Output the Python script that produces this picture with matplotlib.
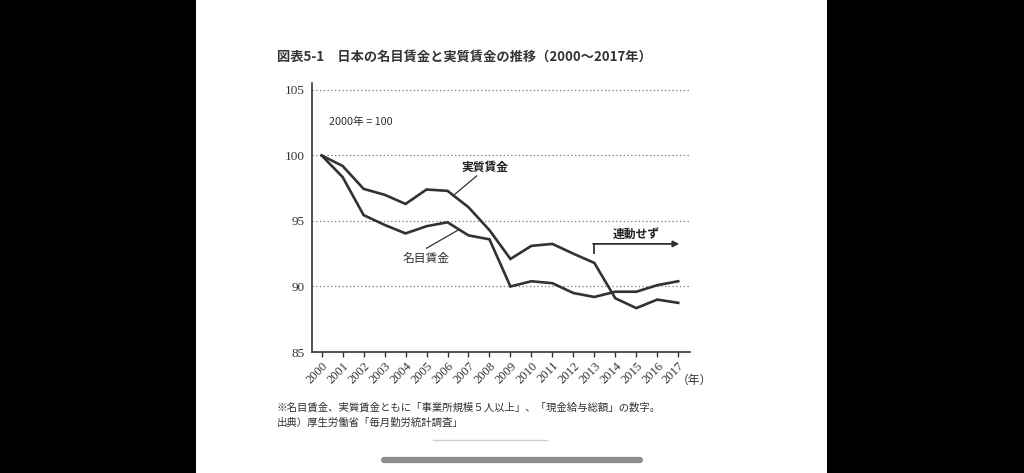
import matplotlib
matplotlib.use('Agg')
import matplotlib.pyplot as plt
from matplotlib.patches import Rectangle
from matplotlib.lines import Line2D

plt.rcParams['font.family'] = ['Noto Sans CJK JP', 'DejaVu Sans']

# data (2000 = 100)
years = list(range(2000, 2018))
real_wage = [100, 99.2, 97.45, 97.0, 96.3, 97.4, 97.3, 96.05, 94.3, 92.1,
             93.1, 93.25, 92.5, 91.8, 89.1, 88.35, 89.0, 88.75]
nominal_wage = [100, 98.35, 95.45, 94.7, 94.05, 94.6, 94.9, 93.9, 93.6, 90.0,
                90.4, 90.25, 89.5, 89.2, 89.6, 89.6, 90.1, 90.4]
y_ticks = [85, 90, 95, 100, 105]

title = '図表5-1　日本の名目賃金と実質賃金の推移（2000～2017年）'
note1 = '※名目賃金、実質賃金ともに「事業所規模５人以上」、「現金給与総額」の数字。'
note2 = '出典）厚生労働省「毎月勤労統計調査」'

line_c = '#353131'

fig = plt.figure(figsize=(10.24, 4.73), dpi=100)
fig.patch.set_facecolor('white')

# black side bars of the screenshot
fig.patches.append(Rectangle((0, 0), 196 / 1024, 1, transform=fig.transFigure,
                             facecolor='black', edgecolor='none', zorder=0))
fig.patches.append(Rectangle((827 / 1024, 0), 1 - 827 / 1024, 1, transform=fig.transFigure,
                             facecolor='black', edgecolor='none', zorder=0))

ax = fig.add_axes([312 / 1024, 1 - 352 / 473, 378 / 1024, (352 - 83) / 473])
ax.set_facecolor('white')

ax.plot(years, real_wage, color=line_c, lw=1.9, solid_joinstyle='miter', zorder=3)
ax.plot(years, nominal_wage, color=line_c, lw=1.9, solid_joinstyle='miter', zorder=3)

ax.set_xlim(1999.54, 2017.56)
ax.set_ylim(85, 105.53)

# dotted grid
for v in y_ticks[1:]:
    ax.axhline(v, color='#777777', lw=0.9, ls=(0, (1, 2)), zorder=1)

for s in ['top', 'right']:
    ax.spines[s].set_visible(False)
for s in ['left', 'bottom']:
    ax.spines[s].set_color('#333333')
    ax.spines[s].set_linewidth(1.2)

ax.set_yticks(y_ticks)
ax.set_yticklabels([str(v) for v in y_ticks], family='Liberation Serif', fontsize=9.5,
                   color='#333333')
ax.tick_params(axis='y', length=0, pad=5)
ax.set_xticks(years)
ax.set_xticklabels([str(y) for y in years], rotation=45, ha='right', va='top',
                   rotation_mode='anchor', family='Liberation Serif', fontsize=9,
                   color='#333333')
ax.tick_params(axis='x', length=3.5, width=1, color='#333333', pad=2)

# annotations
ax.text(2000.35, 102.56, '2000年 = 100', fontsize=7.8, va='center', ha='left',
        color='#333333')
ax.text(2007.78, 99.1, '実質賃金', fontsize=8.5, weight='bold', ha='center',
        va='center', color='#222222')
ax.plot([2007.39, 2006.35], [98.44, 97.04], color=line_c, lw=0.9)
ax.text(2005.0, 92.15, '名目賃金', fontsize=8.5, ha='center', va='center',
        color='#333333')
ax.plot([2005.0, 2006.51], [92.92, 94.31], color=line_c, lw=0.9)

ax.plot([2013, 2013], [92.5, 93.25], color=line_c, lw=1.3, solid_capstyle='butt')
ax.annotate('', xy=(2017.05, 93.25), xytext=(2012.94, 93.25),
            arrowprops=dict(arrowstyle='-|>', color=line_c, lw=1.3,
                            mutation_scale=9, shrinkA=0, shrinkB=0))
ax.text(2015.0, 93.95, '連動せず', fontsize=8.5, weight='bold', ha='center',
        va='center', color='#222222')

# texts outside the axes
fig.text(277 / 1024, 1 - 57 / 473, title, fontsize=9.5, weight='bold',
         ha='left', va='center', color='#333333')
fig.text(677 / 1024, 1 - 380 / 473, '（年）', fontsize=8.5, ha='left', va='center',
         color='#333333')
fig.text(277 / 1024, 1 - 407 / 473, note1, fontsize=7.5, ha='left', va='center',
         color='#333333')
fig.text(277 / 1024, 1 - 423 / 473, note2, fontsize=7.5, ha='left', va='center',
         color='#333333')

# faint line of tiny text and the home indicator
fig.add_artist(Line2D([433 / 1024, 547 / 1024], [1 - 440 / 473] * 2,
                      color='#cfcfcf', lw=1.0))
fig.add_artist(Line2D([384 / 1024, 640 / 1024], [1 - 459.5 / 473] * 2,
                      color='#8e8e8e', lw=4.5, solid_capstyle='round'))

fig.savefig('out.png', dpi=100, facecolor='white')
